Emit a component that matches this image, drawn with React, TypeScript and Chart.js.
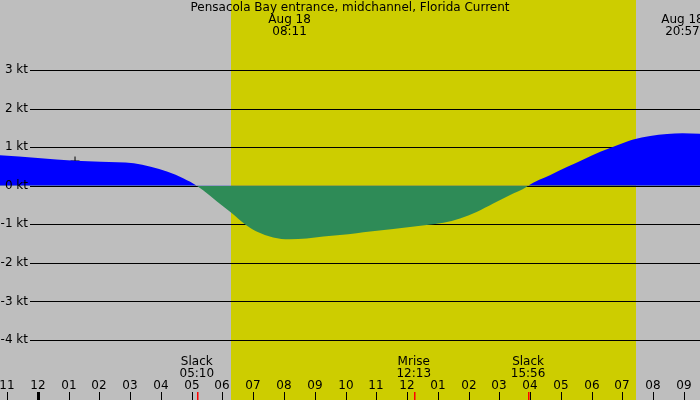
import { useEffect, useRef } from "react";
import { Chart, registerables } from "chart.js";
Chart.register(...registerables);

// current speed (kt) over hours from Aug 18 00:00
const times = [
  -1.23, 0.0, 1.21, 2.05, 3.12, 3.67, 4.22, 4.74, 5.167, 6.03, 6.3, 6.73, 7.11, 7.65,
  8.183, 8.74, 9.28, 9.82, 10.36, 10.8, 11.55, 12.64, 13.18, 13.72, 14.26, 14.8, 15.35,
  15.89, 15.933, 16.66, 17.21, 17.73, 18.28, 18.83, 19.35, 19.9, 20.45, 20.95, 21.52,
];
const speeds = [
  0.79, 0.72, 0.65, 0.62, 0.58, 0.49, 0.36, 0.19, 0, -0.54, -0.71, -1.0, -1.19, -1.34,
  -1.39, -1.37, -1.32, -1.28, -1.23, -1.19, -1.12, -1.02, -0.96, -0.85, -0.68, -0.46, -0.24,
  -0.03, 0, 0.28, 0.49, 0.68, 0.88, 1.05, 1.2, 1.29, 1.34, 1.36, 1.35,
];

const markerTime = [1.21];
const markerSpeed = [0.64];

const hourTicks = [-1, 0, 1, 2, 3, 4, 5, 6, 7, 8, 9, 10, 11, 12, 13, 14, 15, 16, 17, 18, 19, 20, 21];
const hourLabels = ["11", "12", "01", "02", "03", "04", "05", "06", "07", "08", "09", "10",
  "11", "12", "01", "02", "03", "04", "05", "06", "07", "08", "09"];

const ktTicks = [3, 2, 1, 0, -1, -2, -3, -4];

const sunrise = 6.28;
const sunset = 19.44;

const eventTimes = [5.167, 12.217, 15.933];
const eventNames = ["Slack", "Mrise", "Slack"];
const eventClock = ["05:10", "12:13", "15:56"];

const peakTimes = [8.183, 20.95];
const peakDates = ["Aug 18", "Aug 18"];
const peakClock = ["08:11", "20:57"];

const title = "Pensacola Bay entrance, midchannel, Florida Current";

const FONT = '12px "DejaVu Sans"';

const tidePlugin = {
  id: "tideDecor",
  beforeDraw(chart: any) {
    const { ctx, scales, width, height } = chart;
    const x = scales.x;
    ctx.save();
    ctx.fillStyle = "#bebebe";
    ctx.fillRect(0, 0, width, height);
    const x0 = Math.round(x.getPixelForValue(sunrise));
    const x1 = Math.round(x.getPixelForValue(sunset));
    ctx.fillStyle = "#cdcd00";
    ctx.fillRect(x0, 0, x1 - x0, height);
    ctx.restore();
  },
  beforeDatasetsDraw(chart: any) {
    const { ctx, scales, width } = chart;
    const y = scales.y;
    ctx.save();
    ctx.strokeStyle = "#000";
    ctx.lineWidth = 1;
    ktTicks.forEach((k) => {
      const py = Math.round(y.getPixelForValue(k)) + 0.5;
      ctx.beginPath();
      ctx.moveTo(30, py);
      ctx.lineTo(width, py);
      ctx.stroke();
    });
    ctx.restore();
  },
  afterDatasetsDraw(chart: any) {
    const { ctx, scales, width, height } = chart;
    const x = scales.x;
    const y = scales.y;
    ctx.save();
    ctx.font = FONT;
    ctx.fillStyle = "#000";
    ctx.textBaseline = "middle";

    // y labels
    ctx.textAlign = "right";
    ktTicks.forEach((k) => {
      ctx.fillText(k + " kt", 28, y.getPixelForValue(k));
    });

    // title and peak labels
    ctx.textAlign = "center";
    ctx.fillText(title, width / 2, 8);
    peakTimes.forEach((t, i) => {
      const px = x.getPixelForValue(t);
      ctx.fillText(peakDates[i], px, 20);
      ctx.fillText(peakClock[i], px, 32);
    });

    // hour ticks and labels
    hourTicks.forEach((h, i) => {
      const px = Math.round(x.getPixelForValue(h));
      ctx.fillText(hourLabels[i], px, 386);
      if (h === 0) {
        ctx.fillRect(px - 1, 392, 3, height - 392);
      } else {
        ctx.fillRect(px, 392, 1, height - 392);
      }
    });

    // events
    eventTimes.forEach((t, i) => {
      const px = x.getPixelForValue(t);
      ctx.fillStyle = "#000";
      ctx.fillText(eventNames[i], px, 362);
      ctx.fillText(eventClock[i], px, 374);
      ctx.fillStyle = "#ff0000";
      ctx.fillRect(Math.round(px), 392, 1.5, height - 392);
    });
    ctx.restore();
  },
};

export default function App() {
  const canvasRef = useRef<HTMLCanvasElement>(null);

  useEffect(() => {
    const canvas = canvasRef.current;
    if (!canvas) return;
    const chart = new Chart(canvas, {
      type: "line",
      data: {
        datasets: [
          {
            label: "current",
            data: times.map((t, i) => ({ x: t, y: speeds[i] })),
            borderColor: "rgba(0,0,0,0)",
            borderWidth: 0,
            pointRadius: 0,
            cubicInterpolationMode: "monotone",
            fill: { target: "origin", above: "#0000ff", below: "#2e8b57" },
          },
          {
            label: "now",
            data: markerTime.map((t, i) => ({ x: t, y: markerSpeed[i] })),
            showLine: false,
            pointStyle: "cross",
            pointRadius: 4.5,
            borderColor: "#000",
            borderWidth: 1,
            fill: false,
          },
        ],
      },
      options: {
        animation: false,
        responsive: true,
        maintainAspectRatio: false,
        layout: { padding: 0, autoPadding: false },
        plugins: { legend: { display: false }, tooltip: { enabled: false } },
        scales: {
          x: { type: "linear", display: false, min: -1.228, max: 21.52 },
          y: { type: "linear", display: false, min: -5.556, max: 4.815 },
        },
      },
      plugins: [tidePlugin],
    });
    return () => chart.destroy();
  }, []);

  return (
    <div style={{ position: "absolute", left: 0, top: 0, width: 700, height: 400 }}>
      <canvas ref={canvasRef}></canvas>
    </div>
  );
}
